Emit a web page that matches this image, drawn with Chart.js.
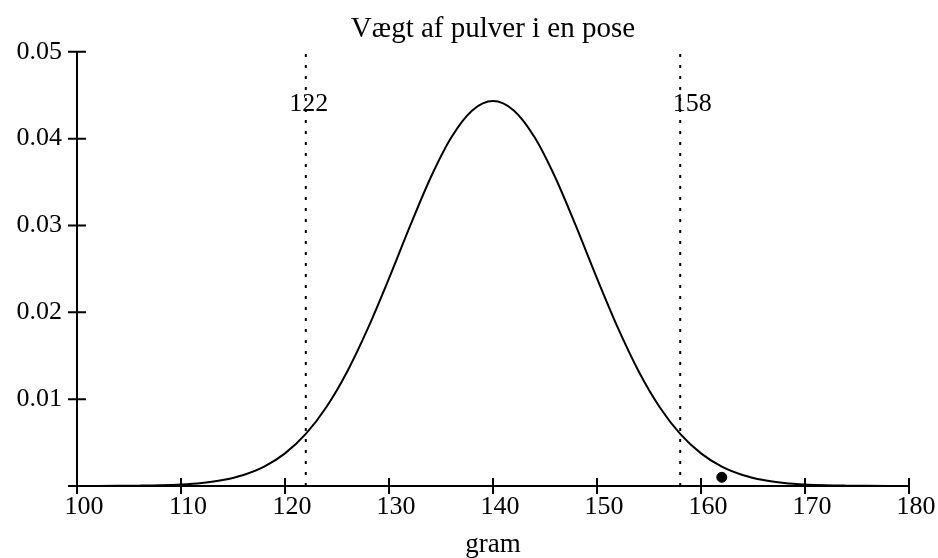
<!DOCTYPE html>
<html><head><meta http-equiv="Content-Type" content="text/html; charset=UTF-8">
  <title>Vægt af pulver i en pose</title>
  <script src="https://cdn.jsdelivr.net/npm/chart.js@4"></script>
  <style>
  html, body { margin: 0; padding: 0; background: #fff; }
  #wrap { width: 938px; height: 558px; }
  </style>
</head>
<body>
  <div id="wrap"><canvas id="chart"></canvas></div>
  <script>
    // values
    var grams = [100,102,104,106,108,110,112,114,116,118,120,122,124,126,128,130,132,134,136,138,140,
                 142,144,146,148,150,152,154,156,158,160,162,164,166,168,170,172,174,176,178,180];
    var density = [0.000005,0.00001,0.00002,0.00004,0.00008,0.00017,0.00035,0.00068,0.00127,0.00223,
                   0.00376,0.00600,0.00913,0.01322,0.01823,0.02391,0.02986,0.03550,0.04016,0.04325,
                   0.04433,
                   0.04325,0.04016,0.03550,0.02986,0.02391,0.01823,0.01322,0.00913,0.00600,0.00376,
                   0.00223,0.00127,0.00068,0.00035,0.00017,0.00008,0.00004,0.00002,0.00001,0.000005];
    var markers = [122, 158];
    var markerLabelShift = [3, 12];
    var point = { x: 162, y: 0.001 };
    var xTicks = [100,110,120,130,140,150,160,170,180];
    var yTicks = [0,0.01,0.02,0.03,0.04,0.05];

    var serif = "'Liberation Serif', 'Times New Roman', serif";

    var curve = grams.map(function(g, i) { return { x: g, y: density[i] }; });
    var datasets = [{
      type: 'line',
      data: curve,
      borderColor: '#000',
      borderWidth: 2,
      pointRadius: 0,
      cubicInterpolationMode: 'monotone',
      fill: false
    }];
    markers.forEach(function(m) {
      datasets.push({
        type: 'line',
        data: [{ x: m, y: 0 }, { x: m, y: 0.05 }],
        borderColor: '#000',
        borderWidth: 2,
        borderDash: [3, 8],
        pointRadius: 0,
        fill: false
      });
    });
    datasets.push({
      type: 'scatter',
      data: [point],
      backgroundColor: '#000',
      borderColor: '#000',
      pointRadius: 5
    });

    // tick marks crossing the axes, and the labels on the dotted lines
    var axisExtras = {
      id: 'axisExtras',
      afterDraw: function(chart) {
        var ctx = chart.ctx, xs = chart.scales.x, ys = chart.scales.y;
        var x0 = xs.getPixelForValue(100), y0 = ys.getPixelForValue(0);
        ctx.save();
        ctx.strokeStyle = '#000';
        ctx.lineWidth = 2;
        ctx.beginPath();
        xTicks.forEach(function(t) {
          var px = xs.getPixelForValue(t);
          ctx.moveTo(px, y0 - 8); ctx.lineTo(px, y0 + 8);
        });
        yTicks.forEach(function(t) {
          var py = ys.getPixelForValue(t);
          ctx.moveTo(x0 - 9, py); ctx.lineTo(x0 + 9, py);
        });
        ctx.stroke();
        ctx.fillStyle = '#000';
        ctx.font = '26px ' + serif;
        ctx.textAlign = 'center';
        ctx.textBaseline = 'middle';
        markers.forEach(function(m, i) {
          ctx.fillText(String(m), xs.getPixelForValue(m) + markerLabelShift[i], ys.getPixelForValue(0.044));
        });
        ctx.restore();
      }
    };

    new Chart(document.getElementById('chart'), {
      data: { datasets: datasets },
      plugins: [axisExtras],
      options: {
        responsive: true,
        maintainAspectRatio: false,
        animation: false,
        layout: { padding: { left: 0, right: 29, top: 0, bottom: 0 } },
        plugins: {
          legend: { display: false },
          tooltip: { enabled: false },
          title: {
            display: true,
            fullSize: false,
            text: 'Vægt af pulver i en pose',
            color: '#000',
            font: { family: serif, size: 29, weight: 'normal' },
            padding: { top: 12, bottom: 5 }
          }
        },
        scales: {
          x: {
            type: 'linear',
            min: 100, max: 180,
            afterFit: function(s) { s.height = 72; },
            border: { display: true, color: '#000', width: 2 },
            grid: { drawOnChartArea: false, drawTicks: false },
            ticks: {
              stepSize: 10, color: '#000', padding: 6, labelOffset: 7,
              font: { family: serif, size: 26 }
            },
            title: {
              display: true, text: 'gram', color: '#000',
              font: { family: serif, size: 27, lineHeight: 1 },
              padding: { top: 0, bottom: 0 }
            }
          },
          y: {
            min: 0, max: 0.05,
            afterFit: function(s) { s.width = 77; },
            border: { display: true, color: '#000', width: 2 },
            grid: { drawOnChartArea: false, drawTicks: false },
            ticks: {
              stepSize: 0.01, color: '#000', padding: 15,
              font: { family: serif, size: 26 },
              callback: function(v) { return v === 0 ? '' : v.toFixed(2); }
            }
          }
        }
      }
    });
  </script>
</body></html>
